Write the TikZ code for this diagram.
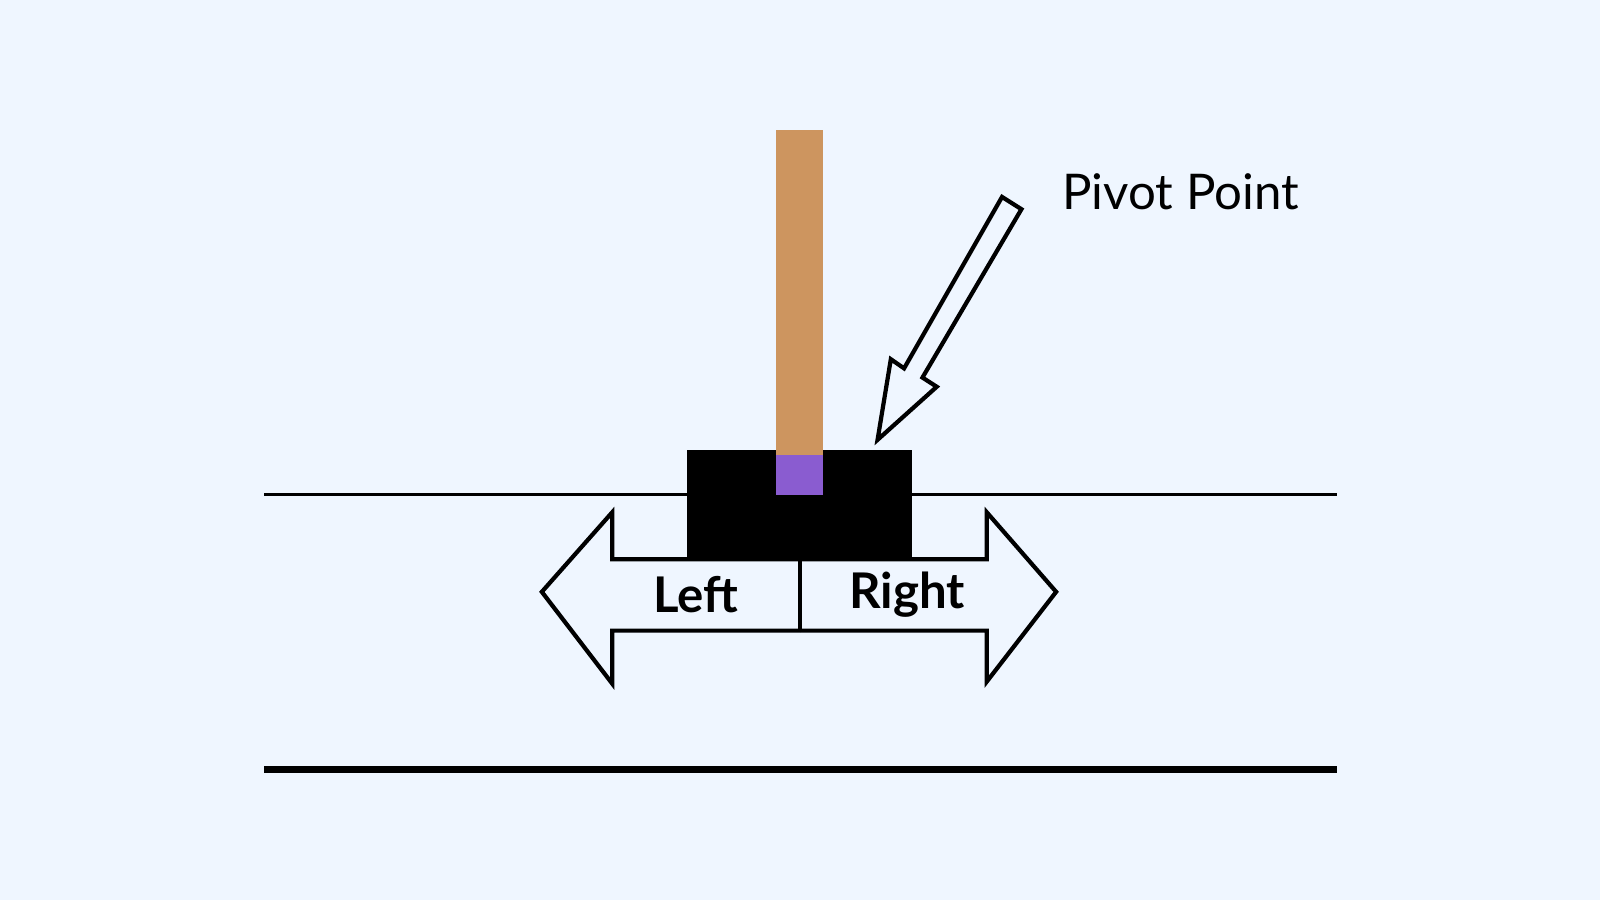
\documentclass[tikz,border=0pt]{standalone}
\usepackage{fontspec}
\setmainfont{Lato}
\usetikzlibrary{positioning}
\definecolor{bgblue}{HTML}{EFF6FF}
\definecolor{poletan}{HTML}{CD955F}
\definecolor{pivotpurple}{HTML}{8A5CD0}
\tikzset{
  outline/.style = {draw = black, line width = 1.2pt, fill = bgblue, line join = miter},
  label/.style = {font = \fontsize{14}{16}\selectfont\bfseries, inner sep = 0pt}
}

\begin{document}
\begin{tikzpicture}[x = 0.010204cm, y = -0.010204cm]
\fill[bgblue] (0,0) rectangle (1568,882);
\useasboundingbox (0,0) rectangle (1568,882);
% track and floor
\draw[line width = 0.9pt] (259,485) -- (1310,485);
\draw[line width = 2pt] (259,754) -- (1310,754);
% cart and pole
\fill[black] (673,441) rectangle (894,548);
\fill[poletan] (760,127) rectangle (807,446);
\fill[pivotpurple] (760,446) rectangle (807,485);
% left / right arrows
\draw[outline] (784,548) -- (600,548) -- (600,502) -- (531,580) -- (600,670) -- (600,618) -- (784,618);
\draw[outline] (784,548) -- (967,548) -- (967,502) -- (1035,580) -- (967,668) -- (967,618) -- (784,618);
\draw[line width = 1.2pt] (784,548) -- (784,618);
\node[label] (left) at (682,583) {Left};
\node[label] (right) at (889,583) {Right};
% pivot marker
\draw[outline] (860,431) -- (873,352) -- (886,361) -- (982,193) -- (1001,205) -- (904,370) -- (918,379) -- cycle;
\node[font = \fontsize{14}{16}\selectfont, inner sep = 0pt] (pivot) at (1157,188) {Pivot Point};
\end{tikzpicture}
\end{document}
